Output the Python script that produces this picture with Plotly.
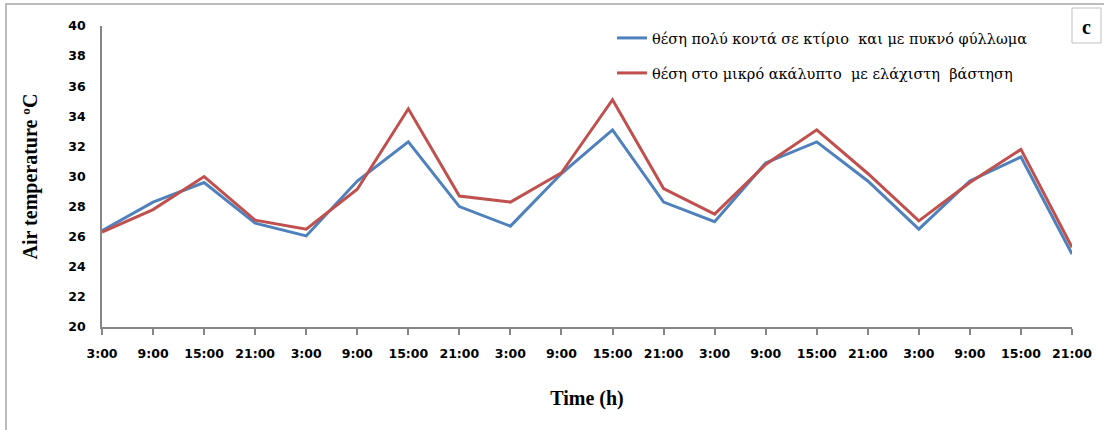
import plotly.graph_objects as go

time_labels = ["3:00", "9:00", "15:00", "21:00", "3:00", "9:00", "15:00", "21:00",
               "3:00", "9:00", "15:00", "21:00", "3:00", "9:00", "15:00", "21:00",
               "3:00", "9:00", "15:00", "21:00"]
near_building = [26.4, 28.3, 29.6, 26.9, 26.05, 29.7, 32.3, 28.0, 26.7, 30.2,
                 33.1, 28.3, 27.0, 30.9, 32.3, 29.7, 26.5, 29.7, 31.3, 24.85]
open_space = [26.3, 27.8, 30.0, 27.1, 26.5, 29.15, 34.5, 28.7, 28.3, 30.25,
              35.1, 29.2, 27.5, 30.8, 33.1, 30.2, 27.05, 29.6, 31.8, 25.3]
name_near = "θέση πολύ κοντά σε κτίριο  και με πυκνό φύλλωμα"
name_open = "θέση στο μικρό ακάλυπτο  με ελάχιστη  βάστηση"
y_ticks = list(range(20, 41, 2))

W, H = 1104, 430
L, R, T, B = 102, 1072, 26, 327

def px_x(p):
    return (p - L) / (R - L)

def px_y(p):
    return (B - p) / (B - T)

x_idx = list(range(len(time_labels)))

fig = go.Figure()
fig.add_trace(go.Scatter(x=x_idx, y=near_building, mode="lines", name=name_near,
                         line=dict(color="#4F81BD", width=3), legend="legend"))
fig.add_trace(go.Scatter(x=x_idx, y=open_space, mode="lines", name=name_open,
                         line=dict(color="#C0504D", width=3), legend="legend2"))

legend_font = dict(family="DejaVu Serif", size=14.5, color="#000000")
tick_font = dict(family="DejaVu Sans", size=12.5, color="#000000", weight="bold")
fig.update_layout(
    width=W, height=H,
    margin=dict(l=L, r=W - R, t=T, b=H - B, pad=0),
    paper_bgcolor="white", plot_bgcolor="white",
    showlegend=True,
    legend=dict(x=px_x(612), y=px_y(38), xanchor="left", yanchor="middle",
                font=legend_font, bgcolor="rgba(0,0,0,0)", itemwidth=30),
    legend2=dict(x=px_x(612), y=px_y(73), xanchor="left", yanchor="middle",
                 font=legend_font, bgcolor="rgba(0,0,0,0)", itemwidth=30),
    xaxis=dict(range=[0, len(time_labels) - 1], tickmode="array", tickvals=x_idx,
               ticktext=time_labels, showgrid=False, zeroline=False,
               showline=True, linecolor="#868686", linewidth=1.5,
               ticks="outside", ticklen=6, tickcolor="#868686", tickwidth=1.5,
               tickfont=tick_font, ticklabelstandoff=8,
               title=dict(text="<b>Time (h)</b>", standoff=31,
                          font=dict(family="Liberation Serif", size=20, color="#000000"))),
    yaxis=dict(range=[20, 40], tickmode="array", tickvals=y_ticks,
               showgrid=False, zeroline=False,
               showline=True, linecolor="#868686", linewidth=1.5,
               ticks="", tickfont=tick_font, ticklabelstandoff=12,
               title=dict(text="<b>Air temperature ºC</b>", standoff=25,
                          font=dict(family="Liberation Serif", size=20, color="#000000"))),
    shapes=[
        dict(type="rect", xref="paper", yref="paper",
             x0=px_x(6), x1=px_x(1120), y0=px_y(445), y1=px_y(4),
             line=dict(color="#a6a6a6", width=1.5), fillcolor="rgba(0,0,0,0)", layer="below"),
        dict(type="rect", xref="paper", yref="paper",
             x0=px_x(1072), x1=px_x(1101), y0=px_y(43), y1=px_y(8),
             line=dict(color="#bfbfbf", width=1), fillcolor="white"),
    ],
    annotations=[
        dict(text="<b>c</b>", xref="paper", yref="paper", x=px_x(1086.5), y=px_y(27),
             xanchor="center", yanchor="middle", showarrow=False,
             font=dict(family="Liberation Serif", size=20, color="#000000")),
    ],
)

fig.write_html("out.html", config={"displayModeBar": False},
               post_script="document.body.style.margin='0';document.body.style.overflow='hidden';")
